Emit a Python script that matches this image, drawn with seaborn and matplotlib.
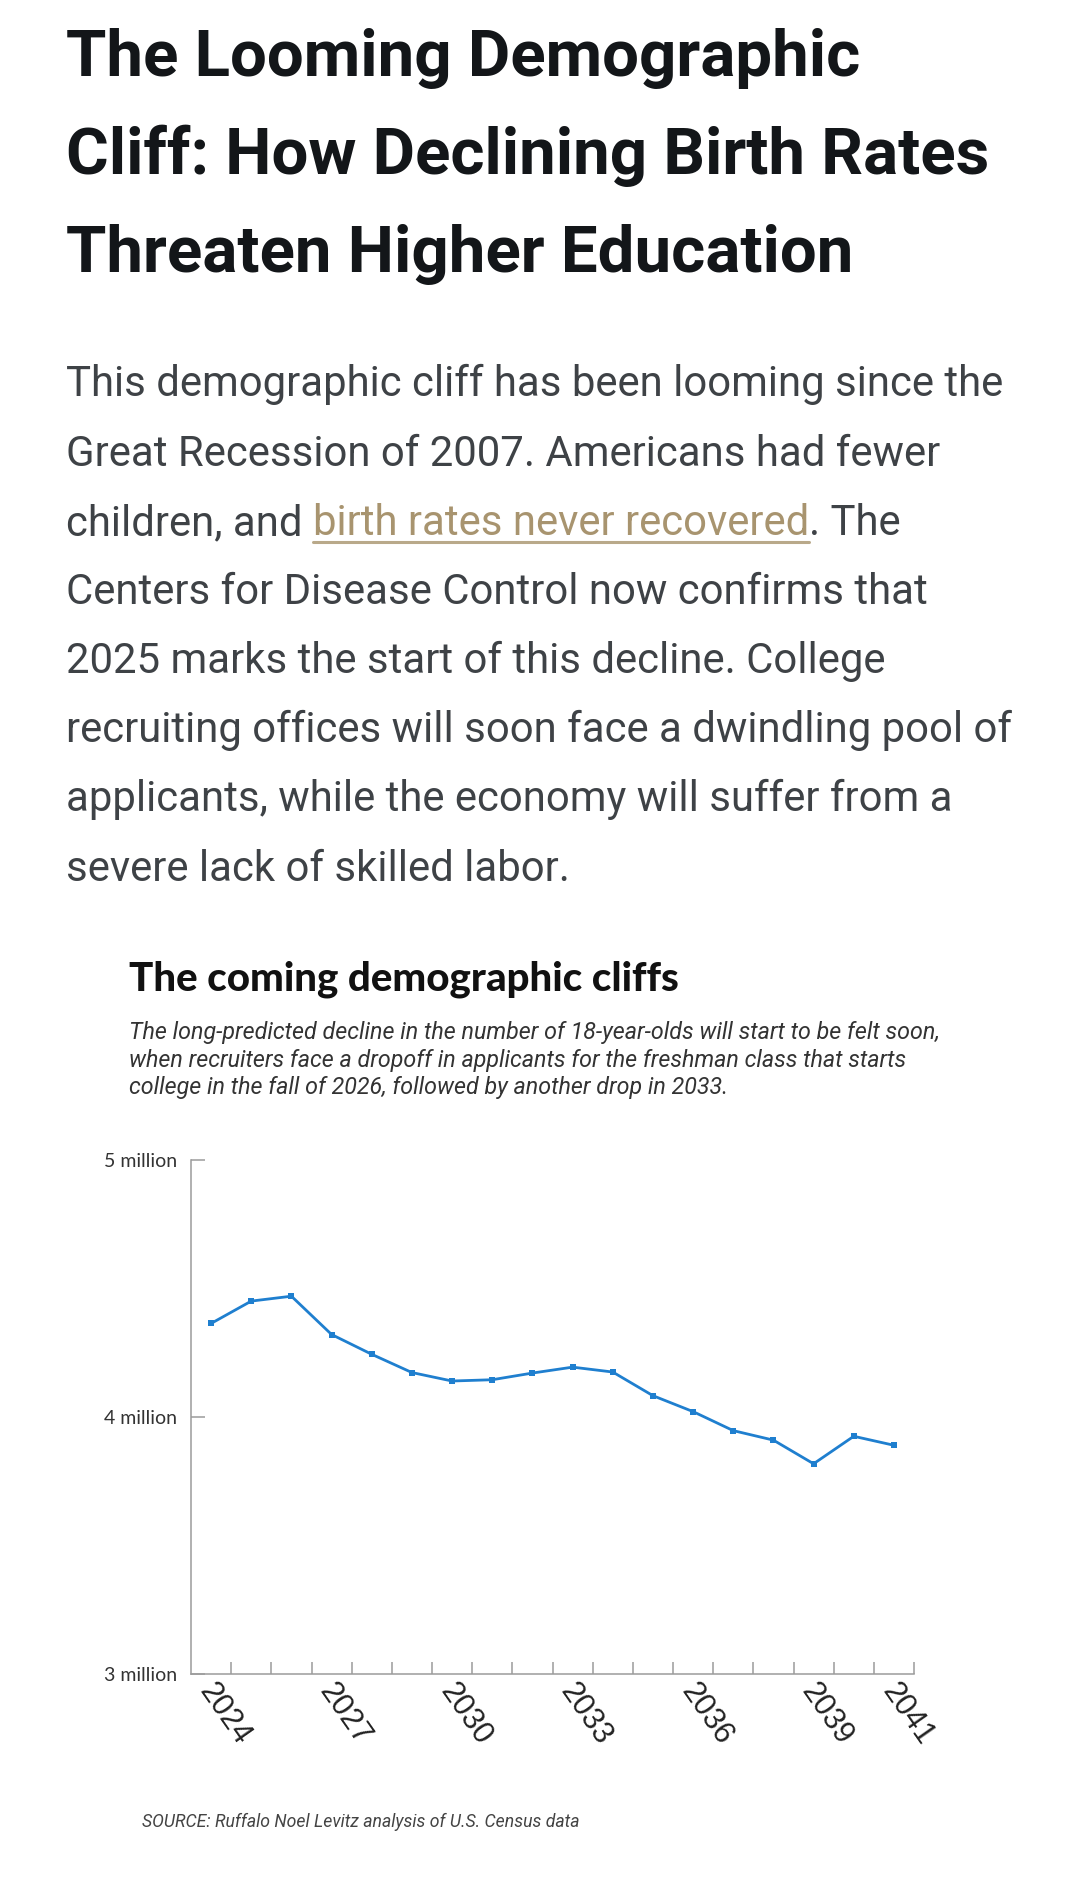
import numpy as np
import pandas as pd
import matplotlib
matplotlib.use("Agg")
import matplotlib.pyplot as plt
import matplotlib.transforms as mtransforms
from matplotlib.lines import Line2D
import seaborn as sns

# ---------------- data ----------------
years = list(range(2024, 2042))
population_millions = [4.364, 4.451, 4.470, 4.321, 4.244, 4.173, 4.140, 4.145,
                       4.171, 4.194, 4.175, 4.083, 4.021, 3.947, 3.910, 3.818,
                       3.925, 3.890]
x_label_years = [2024, 2027, 2030, 2033, 2036, 2039, 2041]
y_tick_values = [3, 4, 5]
y_tick_labels = ["3 million", "4 million", "5 million"]

headline_lines = ["The Looming Demographic",
                  "Cliff: How Declining Birth Rates",
                  "Threaten Higher Education"]
body_lines = ["This demographic cliff has been looming since the",
              "Great Recession of 2007. Americans had fewer",
              None,
              "Centers for Disease Control now confirms that",
              "2025 marks the start of this decline. College",
              "recruiting offices will soon face a dwindling pool of",
              "applicants, while the economy will suffer from a",
              "severe lack of skilled labor."]
link_line = ("children, and ", "birth rates never recovered", ". The")
chart_title = "The coming demographic cliffs"
chart_subtitle = ["The long-predicted decline in the number of 18-year-olds will start to be felt soon,",
                  "when recruiters face a dropoff in applicants for the freshman class that starts",
                  "college in the fall of 2026, followed by another drop in 2033."]
source_text = "SOURCE: Ruffalo Noel Levitz analysis of U.S. Census data"

# ---------------- style ----------------
sns.set_theme(style="white")
plt.rcParams["font.family"] = ["Roboto", "DejaVu Sans"]

W, H = 1080, 1892
fig = plt.figure(figsize=(W / 100, H / 100), dpi=100)
fig.patch.set_facecolor("white")
renderer = fig.canvas.get_renderer()

HEAD_C = "#131619"
BODY_C = "#3e4246"
LINK_C = "#a8946f"
LINE_C = "#1f7fcf"
AXIS_C = "#9b9b9b"


def ftext(x, y, s, **kw):
    kw.setdefault("va", "baseline")
    return fig.text(x / W, 1 - y / H, s, **kw)


def width_px(t):
    return t.get_window_extent(renderer=renderer).width


def fit(t, target):
    fs = t.get_fontsize()
    t.set_fontsize(fs * target / width_px(t))
    return t.get_fontsize()


# headline
t0 = ftext(66, 76, headline_lines[0], fontsize=47, fontweight="bold",
           family=["Roboto", "DejaVu Sans"], color=HEAD_C)
hs = fit(t0, 794)
for i, s in enumerate(headline_lines[1:], start=1):
    ftext(66, 76 + 98 * i, s, fontsize=hs, fontweight="bold",
          family=["Roboto", "DejaVu Sans"], color=HEAD_C)

# body text
body_base = [396, 466, 535, 604, 673, 742, 811, 881]
b0 = ftext(66, body_base[0], body_lines[0], fontsize=29,
           family=["Roboto", "DejaVu Sans"], color=BODY_C)
bs = fit(b0, 938)
for i, s in enumerate(body_lines[1:], start=1):
    if s is None:
        continue
    ftext(66, body_base[i], s, fontsize=bs, family=["Roboto", "DejaVu Sans"], color=BODY_C)

# line with link
pre, link, post = link_line
tp = ftext(66, body_base[2], pre.rstrip(), fontsize=bs, family=["Roboto", "DejaVu Sans"], color=BODY_C)
ta = ftext(66, 300, "a a", fontsize=bs, family=["Roboto", "DejaVu Sans"])
tb = ftext(66, 300, "aa", fontsize=bs, family=["Roboto", "DejaVu Sans"])
space_w = width_px(ta) - width_px(tb)
ta.remove()
tb.remove()
x_link = 66 + width_px(tp) + space_w
tl = ftext(x_link, body_base[2], link, fontsize=bs, family=["Roboto", "DejaVu Sans"], color=LINK_C)
x_post = x_link + width_px(tl)
ftext(x_post, body_base[2], post, fontsize=bs, family=["Roboto", "DejaVu Sans"], color=BODY_C)
uy = 1 - (body_base[2] + 7) / H
fig.add_artist(Line2D([x_link / W, x_post / W], [uy, uy], transform=fig.transFigure,
                      color="#b9a98a", lw=2.2))

# chart title / subtitle
ct = ftext(129, 990, chart_title, fontsize=21, fontweight="black",
           family=["Lato", "DejaVu Sans"], color="#111111")
fit(ct, 549)
st0 = ftext(129, 1039, chart_subtitle[0], fontsize=14, style="italic",
            family=["Roboto", "DejaVu Sans"], color="#333333")
ss = fit(st0, 812)
for i, s in enumerate(chart_subtitle[1:], start=1):
    ftext(129, 1039 + 27.5 * i, s, fontsize=ss, style="italic",
          family=["Roboto", "DejaVu Sans"], color="#333333")

src = ftext(142, 1827, source_text, fontsize=11, style="italic",
            family=["Roboto", "DejaVu Sans"], color="#444444")
fit(src, 435)

# ---------------- chart ----------------
ax = fig.add_axes([191 / W, 1 - 1674 / H, (914 - 191) / W, (1674 - 1160) / H])
df = pd.DataFrame({"year": years, "population": population_millions})
sns.lineplot(data=df, x="year", y="population", ax=ax, color=LINE_C, linewidth=2.0,
             marker="s", markersize=5.0, markeredgewidth=0)
ax.set_xlim(2023.5, 2041.5)
ax.set_ylim(3, 5)
ax.set_xlabel("")
ax.set_ylabel("")
ax.set_facecolor("white")
for s in ["top", "right"]:
    ax.spines[s].set_visible(False)
for s in ["left", "bottom"]:
    ax.spines[s].set_color(AXIS_C)
    ax.spines[s].set_linewidth(1.1)

ax.set_xticks(x_label_years)
ax.set_xticklabels([str(y) for y in x_label_years], rotation=-55, ha="left", va="top",
                   rotation_mode="anchor", fontsize=22, family=["Liberation Sans", "DejaVu Sans"],
                   color="#222222")
ax.tick_params(axis="x", which="major", bottom=True, length=0, pad=3)
ax.set_xticks(np.arange(2024.5, 2042, 1.0), minor=True)
ax.tick_params(axis="x", which="minor", bottom=True, direction="in", length=8.6,
               width=1.1, color=AXIS_C)

ax.set_yticks(y_tick_values)
ax.set_yticklabels(y_tick_labels, fontsize=14, family=["Lato", "DejaVu Sans"], color="#333333")
ax.tick_params(axis="y", which="major", left=True, direction="in", length=10, width=1.1,
               color=AXIS_C, pad=10)
ax.grid(False)

offset = mtransforms.ScaledTranslation(6 / 100, 0, fig.dpi_scale_trans)
for lbl in ax.get_xticklabels():
    lbl.set_transform(lbl.get_transform() + offset)

fig.savefig("out.png", dpi=100, facecolor="white")
